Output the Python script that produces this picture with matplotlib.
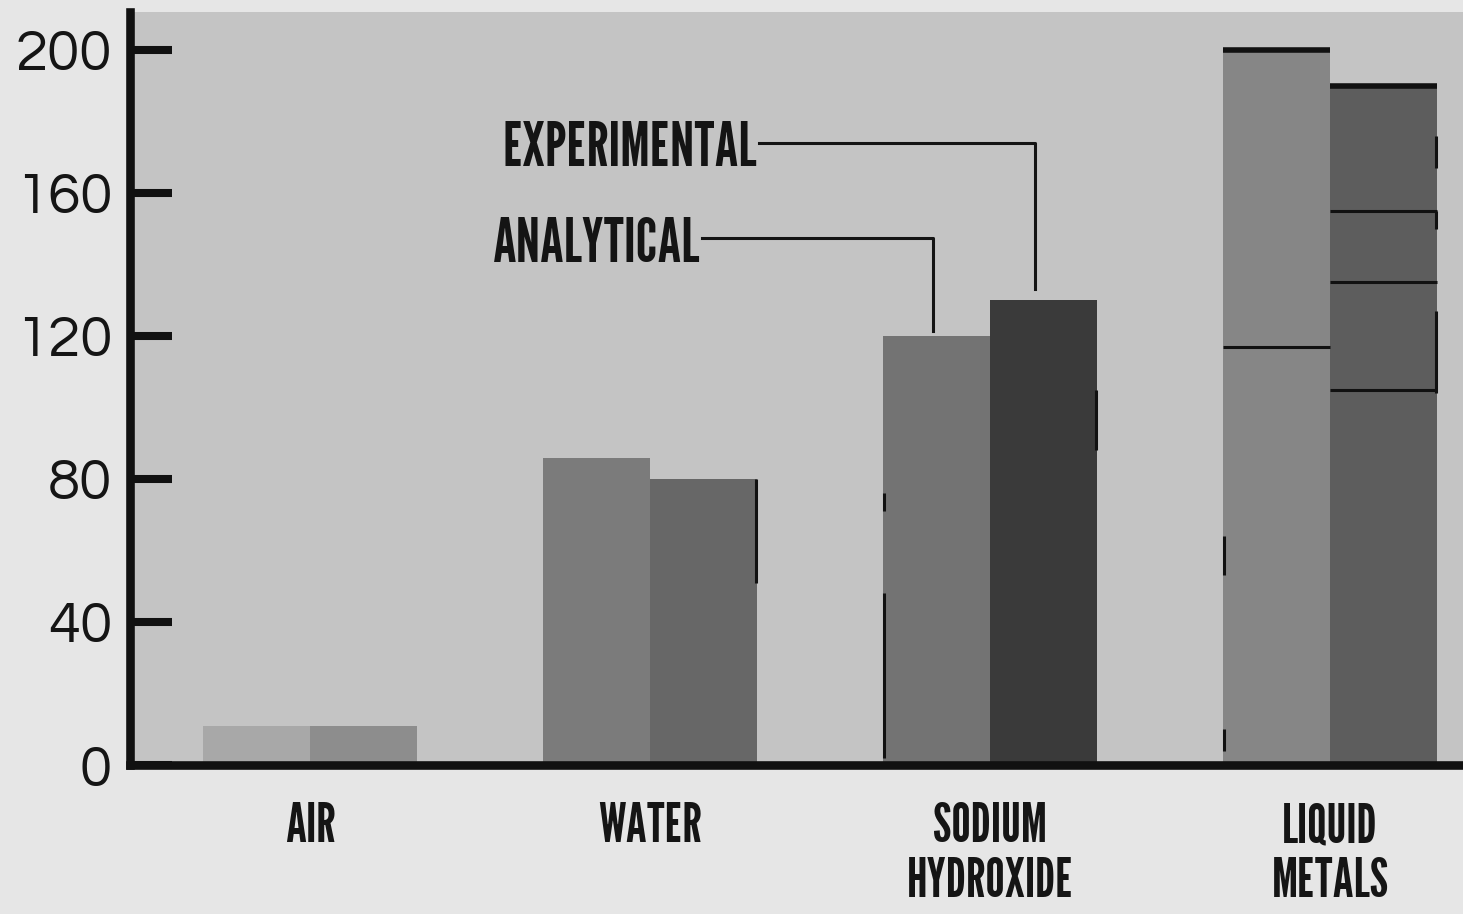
import matplotlib.pyplot as plt

# heat transfer coefficient comparison
categories = ['AIR', 'WATER', 'SODIUM\nHYDROXIDE', 'LIQUID\nMETALS']
analytical = [11, 86, 120, 200]
experimental = [11, 80, 130, 190]
yticks = [0, 40, 80, 120, 160, 200]

# horizontal rules drawn across the liquid metals bars: (category, value)
analytical_rules = [(3, 117)]
experimental_rules = [(3, 155), (3, 135), (3, 105)]

# short black marks on bar edges: (category, series, low, high)
edge_marks = [
    (1, 'exp', 51, 80),
    (2, 'ana', 71, 76),
    (2, 'ana', 2, 48),
    (2, 'exp', 88, 105),
    (3, 'ana', 53, 64),
    (3, 'ana', 4, 10),
    (3, 'exp', 167, 176),
    (3, 'exp', 150, 155),
    (3, 'exp', 104, 127),
]

ana_colors = ['#a8a8a8', '#7b7b7b', '#737373', '#868686']
exp_colors = ['#8d8d8d', '#676767', '#3a3a3a', '#5d5d5d']

GOTHIC = ['League Gothic', 'DejaVu Sans']
NUMS = ['Questrial', 'DejaVu Sans']

W, H = 1463, 914
fig = plt.figure(figsize=(W / 100, H / 100), dpi=100, facecolor='#e6e6e6')
ax = fig.add_axes([130 / W, 1 - 765 / H, 1 - 130 / W, (765 - 12) / H])
ax.set_facecolor('#c4c4c4')

w = 0.315
xa = [i - w / 2 for i in range(len(categories))]
xe = [i + w / 2 for i in range(len(categories))]
ax.bar(xa, analytical, w, color=ana_colors, zorder=2)
ax.bar(xe, experimental, w, color=exp_colors, zorder=2)

# thick tops + inner rules on the liquid metals bars
ax.hlines(analytical[3], xa[3] - w / 2, xa[3] + w / 2, color='#111111', lw=4, zorder=3)
ax.hlines(experimental[3], xe[3] - w / 2, xe[3] + w / 2, color='#111111', lw=4, zorder=3)
for c, v in analytical_rules:
    ax.hlines(v, xa[c] - w / 2, xa[c] + w / 2, color='#111111', lw=2.2, zorder=3)
for c, v in experimental_rules:
    ax.hlines(v, xe[c] - w / 2, xe[c] + w / 2, color='#111111', lw=2.2, zorder=3)

for c, s, lo, hi in edge_marks:
    x = xa[c] - w / 2 + 0.004 if s == 'ana' else xe[c] + w / 2 - 0.004
    ax.vlines(x, lo, hi, color='#111111', lw=2.2, zorder=3)

# legend labels with leader lines down to the sodium hydroxide bars
lab_font = dict(family=GOTHIC, size=44, color='#141414')
ax.text(1.315, 167.5, 'EXPERIMENTAL', ha='right', va='baseline', **lab_font)
ax.text(1.147, 140.7, 'ANALYTICAL', ha='right', va='baseline', **lab_font)
ax.plot([1.32, xe[2] - 0.025, xe[2] - 0.025], [174, 174, experimental[2] + 3],
        color='#141414', lw=2.2, zorder=3)
ax.plot([1.152, xa[2] - 0.01, xa[2] - 0.01], [147.5, 147.5, analytical[2] + 1.5],
        color='#141414', lw=2.2, zorder=3)

ax.set_xlim(-0.529, 3.391)
ax.set_ylim(0, 210.6)

for s in ['top', 'right']:
    ax.spines[s].set_visible(False)
for s in ['left', 'bottom']:
    ax.spines[s].set_linewidth(6.2)
    ax.spines[s].set_color('#111111')
    ax.spines[s].set_zorder(4)

ax.set_yticks(yticks)
ax.set_yticklabels([str(v) for v in yticks], family=NUMS, fontsize=42, color='#151515')
ax.tick_params(axis='y', direction='in', length=30, width=5.8, color='#111111', pad=13)

ax.set_xticks(range(len(categories)))
ax.set_xticklabels(categories, family=GOTHIC, fontsize=39, color='#151515', linespacing=1.12)
ax.tick_params(axis='x', length=0, pad=27)

fig.savefig('out.png', dpi=100, facecolor=fig.get_facecolor())
